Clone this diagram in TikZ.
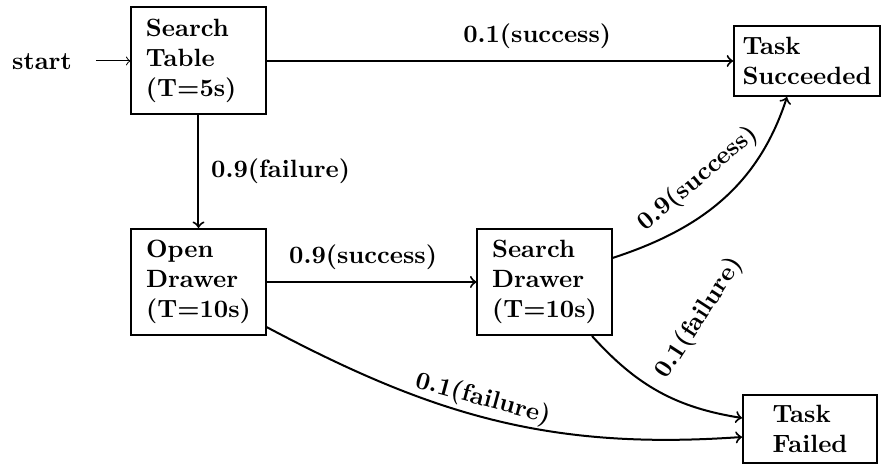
\documentclass[tikz,border=0pt]{standalone}
\usetikzlibrary{calc}
\begin{document}
\begin{tikzpicture}[x=0.4pt,y=0.4pt,
  state/.style={draw, thick, align=left, minimum width=53.6pt, font=\bfseries},
  lab/.style={font=\bfseries, inner sep=4.7pt},
  arr/.style={->, thick}]
\useasboundingbox (0,0) rectangle (883,464);
\node[state, minimum height=42.8pt, text width=42pt] (st) at (198.5,403) {Search\\Table\\(T=5s)};
\node[state, minimum height=28pt] (ts) at (807,403) {Task\\Succeeded};
\node[state, minimum height=42.4pt] (od) at (198.5,182) {Open\\Drawer\\(T=10s)};
\node[state, minimum height=42.4pt] (sd) at (544.5,182) {Search\\Drawer\\(T=10s)};
\node[state, minimum height=27.2pt] (tf) at (810,35) {Task\\Failed};
\node[font=\bfseries] (start) at (42,402) {start};
\coordinate (s0) at (96,403);
\draw[->] (s0) -- (st);
\draw[arr] (st) -- node[lab, above, pos=0.58] {0.1(success)} (ts);
\draw[arr] (st) -- node[lab, right] {0.9(failure)} (od);
\draw[arr] (od) -- node[lab, above, pos=0.46] {0.9(success)} (sd);
\draw[arr] ($(sd.east)+(0,24)$) to[out=18,in=-108] node[lab, sloped, above=2.5pt, pos=0.48] {0.9(success)} ($(ts.south)+(-20,0)$);
\draw[arr] ($(sd.south)+(47.5,0)$) to[out=-48,in=171] node[lab, pos=0.5, xshift=16.2pt, yshift=29.4pt, rotate=57] {0.1(failure)} ($(tf.west)+(0,11)$);
\draw[arr] ($(od.south east)+(0,9)$) to[out=-28,in=-176] node[lab, inner sep=1.5pt, sloped, above, pos=0.46] {0.1(failure)} ($(tf.west)+(0,-8)$);
\end{tikzpicture}
\end{document}
